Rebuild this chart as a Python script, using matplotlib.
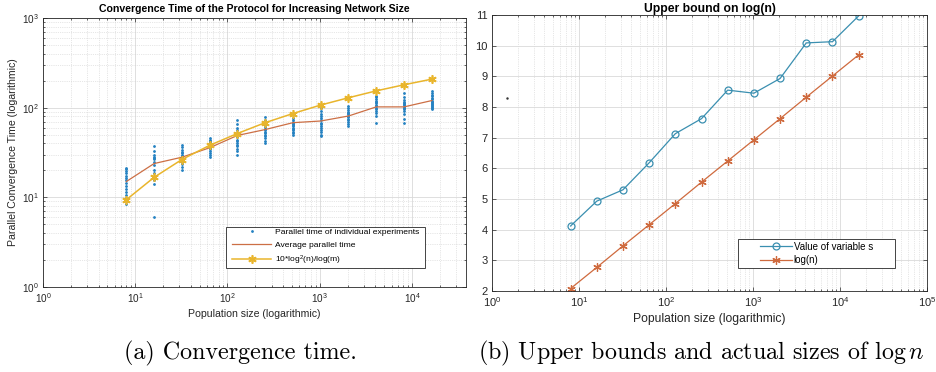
import numpy as np
import matplotlib
matplotlib.use("Agg")
import matplotlib.pyplot as plt
from matplotlib.patches import Rectangle
from matplotlib.ticker import LogLocator, FixedLocator, NullFormatter

# ----------------------------
# Data
# ----------------------------
n_sizes = [8, 16, 32, 64, 128, 256, 512, 1024, 2048, 4096, 8192, 16384]

# individual experiments (parallel time), one list per population size
exp_8 = [8.5, 9.0, 9.8, 10.5, 11.5, 12.5, 13.5, 14.5, 15.5, 16.5, 17.5, 18.5, 19.5, 20.5, 21.3]
exp_16 = [6.0, 14.1, 15.5, 17.0, 18.5, 20.0, 23.0, 25.0, 26.5, 27.5, 28.5, 30.0, 33.0, 37.0]
exp_32 = [20.0, 22.0, 23.5, 25.0, 26.0, 27.0, 28.0, 29.0, 30.0, 31.0, 32.0, 34.0, 36.0, 38.0]
exp_64 = [28.5, 30.0, 31.5, 33.0, 34.5, 35.5, 37.0, 38.0, 39.5, 41.0, 42.5, 44.0, 46.0]
exp_128 = [30.0, 33.0, 35.0, 37.0, 38.5, 40.0, 42.0, 44.0, 47.0, 52.0, 56.0, 60.0, 65.0, 72.0]
exp_256 = [40.5, 43.0, 46.0, 48.0, 50.0, 52.0, 54.0, 56.0, 58.0, 61.0, 64.0, 68.0, 73.0, 78.0]
exp_512 = [50.0, 52.0, 54.0, 56.0, 58.0, 60.0, 62.0, 64.0, 66.0, 68.0, 70.0, 73.0, 76.0]
exp_1024 = [48.0, 50.0, 53.0, 56.0, 59.0, 62.0, 65.0, 68.0, 72.0, 76.0, 80.0, 86.0, 92.0, 98.0, 104.0]
exp_2048 = [63.0, 66.0, 69.0, 72.0, 75.0, 78.0, 81.0, 84.0, 87.0, 90.0, 95.0, 100.0, 105.0]
exp_4096 = [68.0, 80.0, 88.0, 92.0, 96.0, 100.0, 104.0, 108.0, 112.0, 116.0, 120.0, 125.0, 130.0, 135.0]
exp_8192 = [67.0, 75.0, 85.0, 92.0, 96.0, 100.0, 103.0, 106.0, 109.0, 112.0, 116.0, 122.0, 130.0, 144.0]
exp_16384 = [96.0, 99.0, 102.0, 105.0, 108.0, 111.0, 114.0, 117.0, 120.0, 124.0, 128.0, 134.0, 140.0, 146.0, 152.0]

avg_time = [15.0, 23.8, 28.0, 35.7, 49.0, 57.0, 68.0, 71.0, 80.7, 102.0, 102.0, 120.0]
bound_time = [9.4, 16.7, 26.4, 38.0, 51.5, 68.0, 86.0, 107.0, 129.0, 154.0, 180.0, 208.0]

# right panel
s_value = [4.12, 4.93, 5.30, 6.18, 7.13, 7.62, 8.55, 8.45, 8.93, 10.09, 10.13, 10.97]
log_n = [2.08, 2.77, 3.47, 4.16, 4.85, 5.55, 6.24, 6.93, 7.62, 8.32, 9.01, 9.70]
stray_x = [1.49]
stray_y = [8.29]

# ----------------------------
# Style
# ----------------------------
plt.rcParams.update({
    "font.family": "Liberation Sans",
    "mathtext.fontset": "custom",
    "mathtext.rm": "Liberation Sans",
    "mathtext.it": "Liberation Sans:italic",
    "mathtext.bf": "Liberation Sans:bold",
    "axes.edgecolor": "#262626",
    "axes.linewidth": 0.6,
    "xtick.color": "#262626",
    "ytick.color": "#262626",
})

C_DOTS = "#2582c2"
C_AVG = "#cc6f45"
C_BOUND = "#e9b52c"
C_S = "#3a8fb0"
C_LOG = "#cf6a3e"
GRID_MAJ = "#d9d9d9"
GRID_MIN = "#cfcfcf"
W, H = 936, 372


def matlab_axes(ax, logy, fs):
    ax.set_xscale("log")
    if logy:
        ax.set_yscale("log")
    ax.tick_params(which="both", direction="in", top=True, right=True,
                   labelsize=fs, width=0.5, pad=3)
    ax.tick_params(which="major", length=3)
    ax.tick_params(which="minor", length=1.6)
    ax.grid(True, which="major", color=GRID_MAJ, lw=0.6, ls="-")
    ax.grid(True, which="minor", axis="x", color=GRID_MIN, lw=0.5, ls=":")
    if logy:
        ax.grid(True, which="minor", axis="y", color=GRID_MIN, lw=0.5, ls=":")
    ax.set_axisbelow(True)


def boxed_legend(fig, ax, box_px, fs, **kw):
    # box_px = (x0, y0, x1, y1) in figure pixels, y measured from the top
    x0, y0, x1, y1 = box_px
    fx, fy, fw, fh = x0 / W, 1 - y1 / H, (x1 - x0) / W, (y1 - y0) / H
    ax.add_patch(Rectangle((fx, fy), fw, fh, transform=fig.transFigure, clip_on=False,
                           facecolor="white", edgecolor="#262626", lw=0.6, zorder=4.5))
    leg = ax.legend(loc="center", bbox_to_anchor=(fx + fw / 2, fy + fh / 2),
                    bbox_transform=fig.transFigure, fontsize=fs, frameon=False,
                    borderpad=0, borderaxespad=0, **kw)
    leg.set_zorder(5)
    return leg


fig = plt.figure(figsize=(9.36, 3.72), dpi=100)

# ---------------- left panel ----------------
ax1 = fig.add_axes([43 / W, 1 - 287 / H, 423 / W, 269 / H])
matlab_axes(ax1, True, 7.2)

exp_lists = [exp_8, exp_16, exp_32, exp_64, exp_128, exp_256, exp_512,
             exp_1024, exp_2048, exp_4096, exp_8192, exp_16384]
for i, (n, vals) in enumerate(zip(n_sizes, exp_lists)):
    ax1.plot([n] * len(vals), vals, ls="none", marker=".", ms=2.0, color=C_DOTS,
             label="Parallel time of individual experiments" if i == 0 else None)
ax1.plot(n_sizes, avg_time, color=C_AVG, lw=0.9, label="Average parallel time")
ax1.plot(n_sizes, bound_time, color=C_BOUND, lw=1.1, marker=(6, 2, 0), ms=6, mew=1.2,
         label=r"10*log$^{2}$(n)/log(m)")

ax1.set_xlim(1, 3.85e4)
ax1.set_ylim(1, 1000)
ax1.xaxis.set_major_locator(LogLocator(base=10, numticks=10))
ax1.xaxis.set_minor_locator(LogLocator(base=10, subs=np.arange(2, 10), numticks=20))
ax1.xaxis.set_minor_formatter(NullFormatter())
ax1.set_title("Convergence Time of the Protocol for Increasing Network Size",
              fontsize=7.6, fontweight="bold", pad=4)
ax1.set_xlabel("Population size (logarithmic)", fontsize=7.6, labelpad=3, color="#262626")
ax1.set_ylabel("Parallel Convergence Time (logarithmic)", fontsize=7.6, labelpad=3,
               color="#262626")

boxed_legend(fig, ax1, (226, 227, 425, 268), 6.1,
             labelspacing=0.55, handlelength=4.6, handletextpad=0.4)

# ---------------- right panel ----------------
ax2 = fig.add_axes([492 / W, 1 - 291 / H, 435 / W, 276 / H])
matlab_axes(ax2, False, 8)

ax2.plot(n_sizes, s_value, color=C_S, lw=0.9, marker="o", ms=5, mfc="none", mew=0.9,
         label="Value of variable s")
ax2.plot(n_sizes, log_n, color=C_LOG, lw=0.9, marker=(6, 2, 0), ms=6, mew=0.9,
         label="log(n)")
ax2.plot(stray_x, stray_y, ls="none", marker=".", ms=1.5, color="#333333")

ax2.set_xlim(1, 1e5)
ax2.set_ylim(2, 11)
ax2.yaxis.set_major_locator(FixedLocator(np.arange(2, 12)))
ax2.xaxis.set_major_locator(LogLocator(base=10, numticks=10))
ax2.xaxis.set_minor_locator(LogLocator(base=10, subs=np.arange(2, 10), numticks=20))
ax2.xaxis.set_minor_formatter(NullFormatter())
ax2.set_title("Upper bound on log(n)", fontsize=8.7, fontweight="bold", pad=1)
ax2.set_xlabel("Population size (logarithmic)", fontsize=8.7, labelpad=3, color="#262626")

boxed_legend(fig, ax2, (738, 239, 895, 268), 7.0,
             labelspacing=0.35, handlelength=3.3, handletextpad=0.15)

# ---------------- captions ----------------
fig.text(240 / W, 1 - 353 / H, "(a) Convergence time.", family="cmr10",
         fontsize=17.3, ha="center", va="center")
fig.text(478 / W, 1 - 353 / H, r"(b) Upper bounds and actual sizes of $\log n$",
         family="cmr10", math_fontfamily="cm", fontsize=17.3, ha="left", va="center")

fig.savefig("out.png", dpi=100)
